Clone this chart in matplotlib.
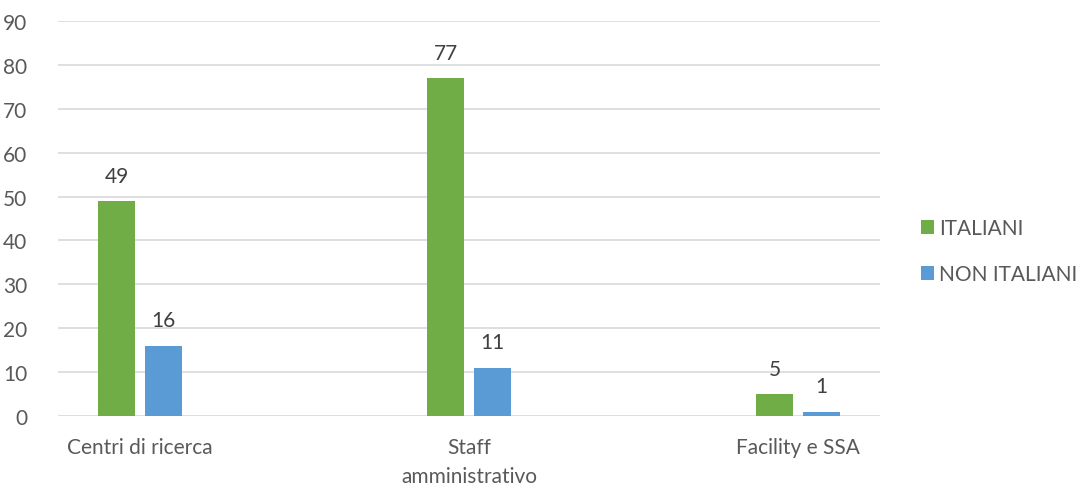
import matplotlib.pyplot as plt
import numpy as np

categories = ["Centri di ricerca", "Staff\namministrativo", "Facility e SSA"]
italiani = [49, 77, 5]
non_italiani = [16, 11, 1]
series_names = ["ITALIANI", "NON ITALIANI"]
y_ticks = [0, 10, 20, 30, 40, 50, 60, 70, 80, 90]

green = "#70AD47"
blue = "#5B9BD5"
text_col = "#595959"
grid_col = "#D9D9D9"
fs = 15

plt.rcParams['font.family'] = ['Lato', 'DejaVu Sans']

fig = plt.figure(figsize=(10.81, 4.89), dpi=100)
ax = fig.add_axes([58 / 1081, 72 / 489, (880 - 58) / 1081, (417 - 22) / 489])

x = np.arange(len(categories))
w = 0.11
off = 0.0714
b1 = ax.bar(x - off, italiani, w, color=green, label=series_names[0], zorder=3)
b2 = ax.bar(x + off, non_italiani, w, color=blue, label=series_names[1], zorder=3)

for bars, vals in ((b1, italiani), (b2, non_italiani)):
    for r, v in zip(bars, vals):
        ax.text(r.get_x() + r.get_width() / 2, v + 3.5, str(v), ha='center', va='bottom',
                fontsize=fs, color="#404040")

ax.set_xlim(-0.249, 2.249)
ax.set_ylim(0, 90)
ax.set_yticks(y_ticks)
ax.set_yticklabels([str(t) for t in y_ticks], fontsize=fs, color=text_col)
ax.set_xticks(x)
ax.set_xticklabels(categories, fontsize=fs, color=text_col, linespacing=1.6)
ax.tick_params(axis='both', length=0)
ax.tick_params(axis='x', pad=15)
ax.tick_params(axis='y', pad=22)
for lbl in ax.get_yticklabels():
    lbl.set_horizontalalignment('right')

ax.grid(axis='y', color=grid_col, linewidth=1.2, zorder=0)
for s in ax.spines.values():
    s.set_visible(False)

leg = fig.legend(handles=[b1, b2], labels=series_names, loc='center left',
                 bbox_to_anchor=(906 / 1081, 1 - 252 / 489), frameon=False,
                 fontsize=fs, handlelength=0.65, handleheight=0.65, borderpad=0.2,
                 handletextpad=0.25, labelspacing=1.25, labelcolor=text_col)

fig.savefig("out.png", dpi=100)
